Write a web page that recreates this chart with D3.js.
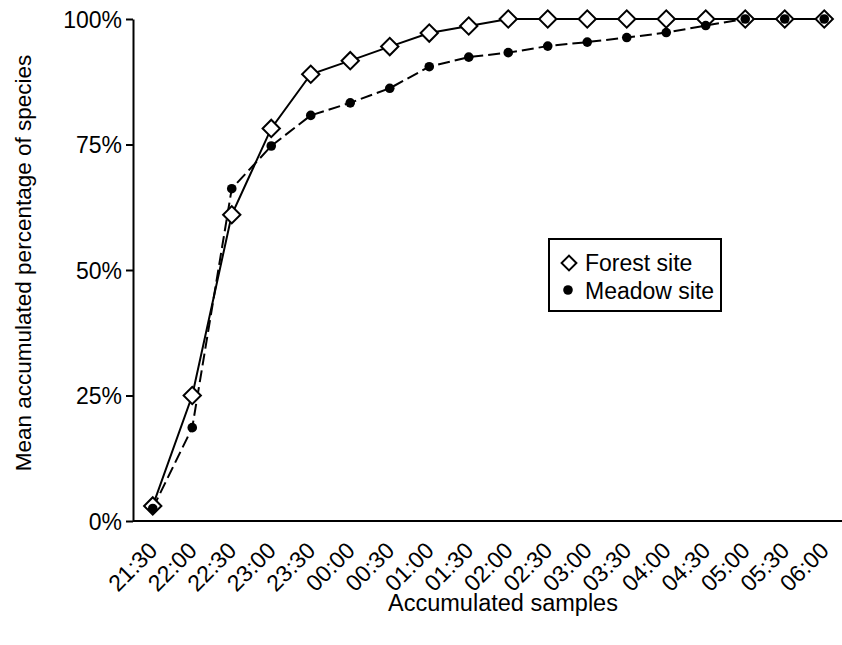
<!DOCTYPE html>
<html>
<head>
<meta charset="utf-8">
<script src="https://cdn.jsdelivr.net/npm/d3@7"></script>
<style>
  body { margin: 0; background: #fff; }
  text { font-family: "Liberation Sans", Arial, sans-serif; fill: #000; }
</style>
</head>
<body>
<div id="chart"></div>
<script>
// sample times (x categories)
const times = ["21:30", "22:00", "22:30", "23:00", "23:30", "00:00", "00:30", "01:00", "01:30",
  "02:00", "02:30", "03:00", "03:30", "04:00", "04:30", "05:00", "05:30", "06:00"];
// mean accumulated percentage of species
const forest = [3, 25, 61, 78.2, 89, 91.7, 94.5, 97.2, 98.6, 100, 100, 100, 100, 100, 100, 100, 100, 100];
const meadow = [2.5, 18.6, 66.2, 74.7, 80.8, 83.3, 86.2, 90.5, 92.4, 93.3, 94.6, 95.4, 96.3, 97.3, 98.7, 100, 100, 100];
const yTicks = [0, 25, 50, 75, 100];

const width = 842;
const height = 645;
const margin = { left: 133, right: 0, top: 19, bottom: 124 };

const svg = d3.select("#chart")
  .append("svg")
  .attr("width", width)
  .attr("height", height);

// scales
const x = d3.scaleBand()
  .domain(times)
  .range([margin.left, margin.left + 18 * 39.5]);
const cx = (t) => x(t) + x.bandwidth() / 2;
const y = d3.scaleLinear()
  .domain([0, 100])
  .range([height - margin.bottom, margin.top]);

// y axis
const yAxis = svg.append("g")
  .attr("transform", `translate(${margin.left},0)`)
  .call(d3.axisLeft(y).tickValues(yTicks).tickFormat((d) => d + "%").tickSize(7).tickPadding(4).tickSizeOuter(0));
yAxis.select(".domain").attr("stroke", "#000").attr("stroke-width", 2);
yAxis.selectAll(".tick line").attr("stroke", "#000").attr("stroke-width", 2);
yAxis.selectAll(".tick text")
  .style("font-size", "23px")
  .style("font-family", "Liberation Sans, Arial, sans-serif")
  .attr("dy", "0.36em");

// x axis (no tick marks)
const xAxis = svg.append("g")
  .attr("transform", `translate(0,${y(0)})`)
  .call(d3.axisBottom(x).tickSize(0).tickSizeOuter(0));
xAxis.select(".domain").attr("stroke", "#000").attr("stroke-width", 2)
  .attr("d", `M${margin.left},0H${width}`);
xAxis.selectAll(".tick text")
  .style("font-size", "23px")
  .style("font-family", "Liberation Sans, Arial, sans-serif")
  .attr("text-anchor", "end")
  .attr("x", 0)
  .attr("y", 0)
  .attr("dy", 0)
  .attr("transform", "translate(6,31) rotate(-45)");

// axis titles
svg.append("text")
  .attr("x", 503)
  .attr("y", 611)
  .attr("text-anchor", "middle")
  .style("font-size", "23.5px")
  .text("Accumulated samples");
svg.append("text")
  .attr("transform", `translate(31,${263}) rotate(-90)`)
  .attr("text-anchor", "middle")
  .style("font-size", "22.5px")
  .text("Mean accumulated percentage of species");

// lines
const line = (vals) => d3.line()
  .x((d, i) => cx(times[i]))
  .y((d) => y(d))(vals);

svg.append("path")
  .attr("d", line(forest))
  .attr("fill", "none")
  .attr("stroke", "#000")
  .attr("stroke-width", 2);
svg.append("path")
  .attr("d", line(meadow))
  .attr("fill", "none")
  .attr("stroke", "#000")
  .attr("stroke-width", 2)
  .attr("stroke-dasharray", "12,5");

// markers
const diamond = d3.symbol().type(d3.symbolSquare).size(150);
svg.append("g")
  .selectAll("path")
  .data(forest)
  .enter()
  .append("path")
  .attr("d", diamond)
  .attr("transform", (d, i) => `translate(${cx(times[i])},${y(d)}) rotate(45)`)
  .attr("fill", "#fff")
  .attr("stroke", "#000")
  .attr("stroke-width", 2);
svg.append("g")
  .selectAll("circle")
  .data(meadow)
  .enter()
  .append("circle")
  .attr("cx", (d, i) => cx(times[i]))
  .attr("cy", (d) => y(d))
  .attr("r", 4.8)
  .attr("fill", "#000");

// legend
const legend = svg.append("g");
legend.append("rect")
  .attr("x", 549)
  .attr("y", 239)
  .attr("width", 172)
  .attr("height", 72)
  .attr("fill", "#fff")
  .attr("stroke", "#000")
  .attr("stroke-width", 2);
legend.append("path")
  .attr("d", d3.symbol().type(d3.symbolSquare).size(110))
  .attr("transform", "translate(569,263) rotate(45)")
  .attr("fill", "#fff")
  .attr("stroke", "#000")
  .attr("stroke-width", 2);
legend.append("circle")
  .attr("cx", 568)
  .attr("cy", 290)
  .attr("r", 4.8)
  .attr("fill", "#000");
legend.append("text")
  .attr("x", 585)
  .attr("y", 271)
  .style("font-size", "23px")
  .text("Forest site");
legend.append("text")
  .attr("x", 585)
  .attr("y", 299)
  .style("font-size", "23px")
  .text("Meadow site");
</script>
</body>
</html>
